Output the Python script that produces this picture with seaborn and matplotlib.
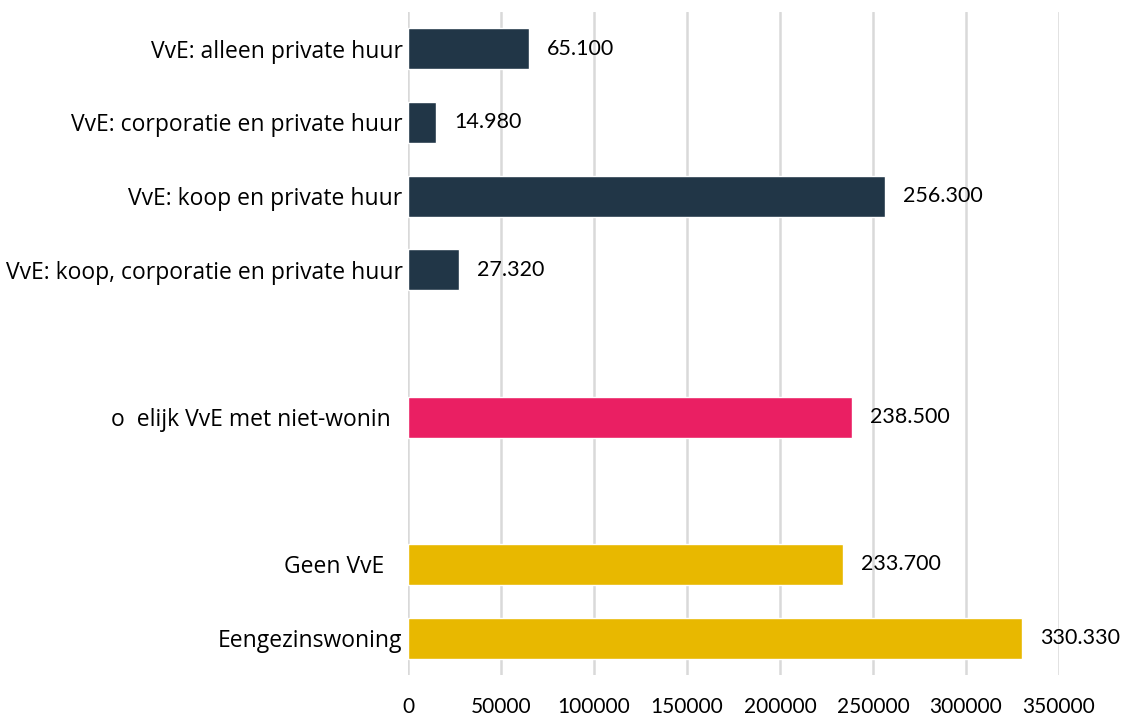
import numpy as np
import pandas as pd
import matplotlib
matplotlib.use("Agg")
import matplotlib.pyplot as plt
import seaborn as sns

# ---- data ----
categories = [
    "VvE: alleen private huur",
    "VvE: corporatie en private huur",
    "VvE: koop en private huur",
    "VvE: koop, corporatie en private huur",
    " ",
    "o  elijk VvE met niet-wonin  ",
    "  ",
    "Geen VvE   ",
    "Eengezinswoning",
]
bar_categories = [
    "VvE: alleen private huur",
    "VvE: corporatie en private huur",
    "VvE: koop en private huur",
    "VvE: koop, corporatie en private huur",
    "o  elijk VvE met niet-wonin  ",
    "Geen VvE   ",
    "Eengezinswoning",
]
values = [65100, 14980, 256300, 27320, 238500, 233700, 330330]
groups = ["VvE", "VvE", "VvE", "VvE", "Mogelijk", "Geen", "Geen"]
group_colors = {"VvE": "#213647", "Mogelijk": "#EA1F63", "Geen": "#E8B800"}
x_ticks = [0, 50000, 100000, 150000, 200000, 250000, 300000, 350000]

df = pd.DataFrame({"categorie": bar_categories, "waarde": values, "groep": groups})

sns.set_theme(style="white")
plt.rcParams["font.family"] = ["Lato", "DejaVu Sans"]

fig, ax = plt.subplots(figsize=(11.26, 7.17), dpi=100)
fig.subplots_adjust(left=0.3625, right=0.9405, bottom=0.0586, top=0.9833)

sns.barplot(data=df, y="categorie", x="waarde", hue="groep", order=categories,
            palette=group_colors, dodge=False, width=0.56, legend=False,
            saturation=1, ax=ax, orient="h")

for c in ax.containers:
    labels = [f"{v:,.0f}".replace(",", ".") for v in c.datavalues]
    ax.bar_label(c, labels=labels, padding=13, fontsize=15.5, color="#000000",
                 family=["Lato", "DejaVu Sans"])

ax.set_xlim(0, 350000)
ax.set_ylim(len(categories) - 0.5, -0.5)
ax.set_xticks(x_ticks)
ax.set_xticklabels([str(t) for t in x_ticks], fontsize=15, color="#000000")
ax.set_axisbelow(True)
ax.xaxis.grid(True, color="#D9D9D9", linewidth=1.8)
ax.yaxis.grid(False)
for s in ax.spines.values():
    s.set_visible(False)
ax.tick_params(axis="x", length=0, pad=16)
ax.tick_params(axis="y", length=0, pad=4)
for lab in ax.get_yticklabels():
    lab.set_fontfamily(["Open Sans", "DejaVu Sans"])
    lab.set_fontsize(16.5)
    lab.set_color("#000000")
ax.set_xlabel("")
ax.set_ylabel("")

fig.savefig("out.png", dpi=100)
